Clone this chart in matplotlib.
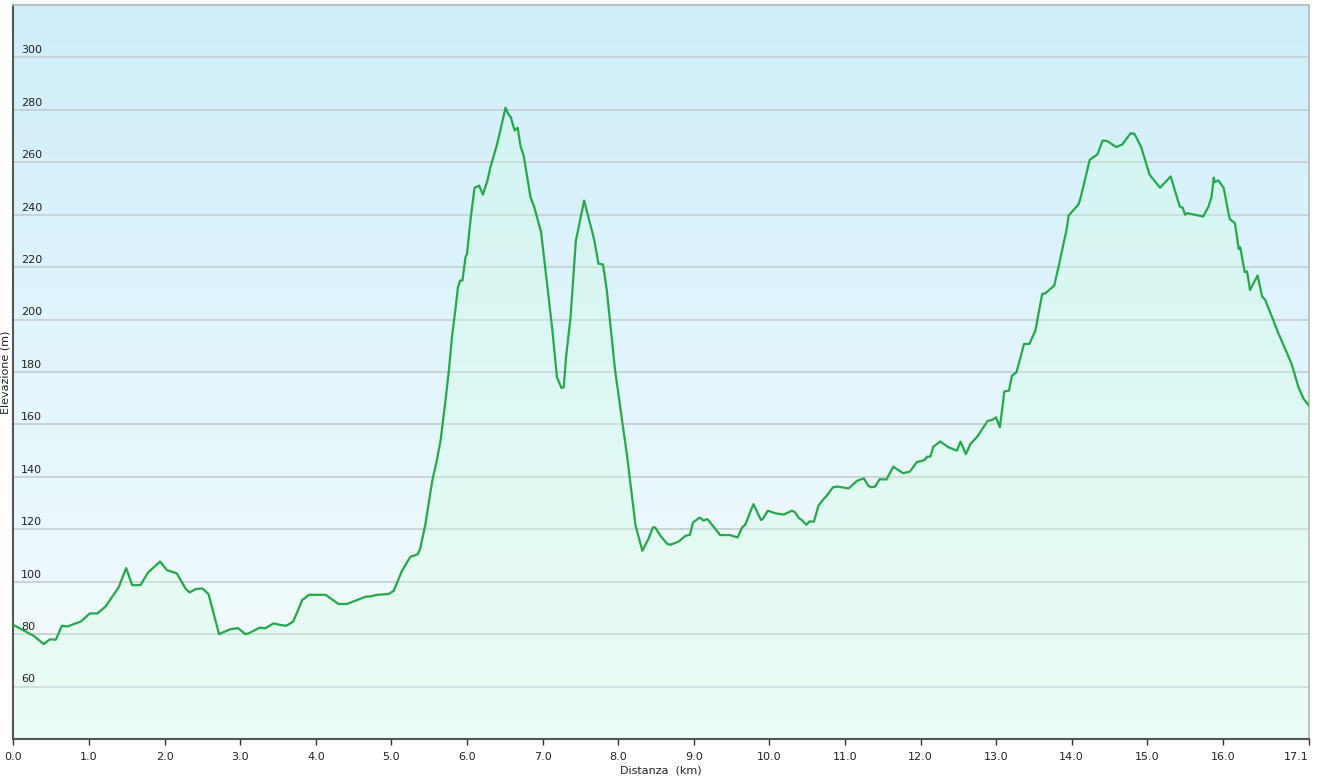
import matplotlib
matplotlib.use('Agg')
import matplotlib.pyplot as plt
import numpy as np
from matplotlib.colors import LinearSegmentedColormap

# Elevation profile
distance_km = [
    0.00, 0.27, 0.40, 0.48, 0.56, 0.64, 0.71, 0.89, 1.01, 1.11, 1.22, 1.39, 1.49, 1.57, 1.68,
    1.78, 1.94, 2.03, 2.16, 2.28, 2.33, 2.41, 2.50, 2.58, 2.72, 2.87, 2.97, 3.07, 3.11, 3.26,
    3.33, 3.44, 3.53, 3.61, 3.70, 3.82, 3.91, 4.13, 4.30, 4.41, 4.66, 4.72, 4.81, 4.96, 5.03,
    5.14, 5.25, 5.35, 5.38, 5.45, 5.54, 5.60, 5.65, 5.71, 5.76, 5.80, 5.85, 5.88, 5.91, 5.94,
    5.98, 6.00, 6.05, 6.10, 6.16, 6.21, 6.27, 6.31, 6.40, 6.45, 6.51, 6.55, 6.58, 6.63, 6.67,
    6.71, 6.75, 6.84, 6.89, 6.98, 7.06, 7.13, 7.19, 7.25, 7.28, 7.31, 7.37, 7.44, 7.49, 7.55,
    7.68, 7.74, 7.80, 7.85, 7.96, 8.12, 8.23, 8.32, 8.40, 8.46, 8.49, 8.56, 8.65, 8.69, 8.80,
    8.89, 8.95, 8.99, 9.08, 9.13, 9.18, 9.35, 9.48, 9.51, 9.58, 9.64, 9.68, 9.79, 9.89, 9.92,
    9.98, 10.08, 10.19, 10.30, 10.34, 10.39, 10.43, 10.49, 10.53, 10.59, 10.65, 10.72, 10.76,
    10.84, 10.90, 11.05, 11.16, 11.25, 11.31, 11.35, 11.40, 11.46, 11.55, 11.64, 11.77, 11.86,
    11.95, 12.05, 12.09, 12.13, 12.17, 12.26, 12.37, 12.48, 12.53, 12.60, 12.66, 12.75, 12.81,
    12.89, 12.95, 13.00, 13.05, 13.11, 13.17, 13.21, 13.27, 13.37, 13.44, 13.52, 13.61, 13.65,
    13.77, 13.83, 13.93, 13.96, 14.09, 14.12, 14.24, 14.34, 14.41, 14.47, 14.59, 14.67, 14.78,
    14.83, 14.92, 15.03, 15.17, 15.31, 15.43, 15.47, 15.50, 15.53, 15.74, 15.81, 15.85, 15.88,
    15.89, 15.94, 16.01, 16.09, 16.16, 16.21, 16.23, 16.29, 16.32, 16.36, 16.46, 16.52, 16.56,
    16.67, 16.72, 16.91, 17.00, 17.07, 17.14,
]
elevation_m = [
    83.5, 79.3, 76.2, 78.0, 77.9, 83.2, 82.9, 84.8, 87.9, 87.9, 90.6, 97.8, 105.2, 98.7, 98.7,
    103.5, 107.7, 104.4, 103.2, 97.2, 95.9, 97.2, 97.4, 95.3, 80.0, 81.9, 82.3, 80.0, 80.3, 82.5,
    82.2, 84.1, 83.5, 83.2, 84.8, 93.0, 95.0, 95.0, 91.5, 91.5, 94.3, 94.4, 95.0, 95.3, 96.5,
    104.2, 109.5, 110.5, 112.5, 122.0, 138.5, 146.2, 153.8, 167.8, 180.5, 193.2, 204.7, 212.3, 214.9, 214.9,
    223.8, 225.1, 239.0, 250.3, 251.1, 247.7, 253.0, 258.1, 267.1, 273.4, 280.8, 278.2, 277.2, 272.1, 273.2,
    265.8, 262.6, 246.7, 242.9, 233.3, 213.6, 195.8, 178.0, 173.9, 174.2, 185.6, 200.9, 230.1, 237.1, 245.4,
    230.8, 221.3, 221.0, 211.1, 180.5, 147.5, 121.4, 111.8, 116.3, 120.7, 120.7, 117.5, 114.4, 114.1, 115.3,
    117.5, 117.9, 122.6, 124.5, 123.3, 123.9, 117.8, 117.8, 117.5, 116.9, 120.7, 121.7, 129.6, 123.5, 124.2,
    127.1, 126.1, 125.6, 127.1, 126.5, 124.3, 123.5, 121.7, 123.0, 122.9, 129.0, 131.6, 132.8,
    136.0, 136.3, 135.6, 138.5, 139.4, 136.6, 136.0, 136.3, 139.1, 139.0, 143.9, 141.4, 142.0,
    145.6, 146.4, 147.7, 147.7, 151.5, 153.5, 151.3, 150.0, 153.4, 148.7, 152.5, 155.3, 157.9,
    161.4, 161.7, 162.7, 158.9, 172.6, 172.9, 178.6, 179.9, 190.7, 190.7, 195.8, 209.8, 210.0,
    213.0, 220.6, 234.0, 239.7, 243.9, 246.7, 261.0, 263.0, 268.3, 268.1, 265.8, 266.8, 271.1,
    270.9, 265.8, 255.3, 250.3, 254.6, 243.1, 242.6, 240.0, 240.6, 239.3, 243.1, 246.7, 254.1,
    252.4, 253.1, 250.3, 238.4, 236.8, 227.0, 227.6, 218.1, 218.4, 211.3, 216.8, 208.8, 207.5,
    199.6, 195.8, 183.1, 174.2, 169.7, 167.2,
]

y_ticks = [60, 80, 100, 120, 140, 160, 180, 200, 220, 240, 260, 280, 300]
x_ticks = list(range(0, 17)) + [17.14]
x_tick_labels = ['%.1f' % t for t in range(0, 17)] + ['17.1']

W, H = 1323, 781
fig = plt.figure(figsize=(W / 100, H / 100), dpi=100)
fig.patch.set_facecolor('white')
ax = fig.add_axes([13.5 / W, (H - 739) / H, (1309 - 13.5) / W, (739 - 5) / H])

x_max = distance_km[-1]
ax.set_xlim(0, x_max)
ax.set_ylim(40, 320)

# background gradient, blue at the top fading to near white
bg = LinearSegmentedColormap.from_list('bg', ['#f6fcfd', '#cfeefa'])
grad = np.linspace(0, 1, 256).reshape(-1, 1)
ax.imshow(grad, aspect='auto', cmap=bg, origin='lower',
          extent=[0, x_max, 40, 320], zorder=0)

for t in y_ticks:
    ax.axhline(t, color='#c3cdd2', lw=1.2, zorder=1)

ax.fill_between(distance_km, elevation_m, 40, color='#d2ffe1', alpha=0.3, lw=0, zorder=2)
ax.plot(distance_km, elevation_m, color='#25a84a', lw=1.6, zorder=3)

# y labels sit inside the plot, just above their grid line
for t in y_ticks:
    ax.annotate(str(t), xy=(0, t), xytext=(5.5, 1.5), textcoords='offset points',
                fontsize=8, color='#222222', ha='left', va='bottom', zorder=4)
ax.set_yticks([])
ax.set_ylabel('Elevazione (m)', fontsize=8, color='#222222', labelpad=2)

ax.set_xticks(x_ticks)
ax.set_xticklabels(x_tick_labels, fontsize=8, color='#222222')
ax.get_xticklabels()[-1].set_horizontalalignment('right')
ax.tick_params(axis='x', direction='out', length=4, width=1, color='#333333', pad=5)
ax.set_xlabel('Distanza  (km)', fontsize=8, color='#222222', labelpad=3)

for side in ['left', 'bottom']:
    ax.spines[side].set_color('#555555')
    ax.spines[side].set_linewidth(1.5)
for side in ['top', 'right']:
    ax.spines[side].set_color('#b8b8b8')
    ax.spines[side].set_linewidth(1.2)

fig.savefig('out.png', dpi=100)
